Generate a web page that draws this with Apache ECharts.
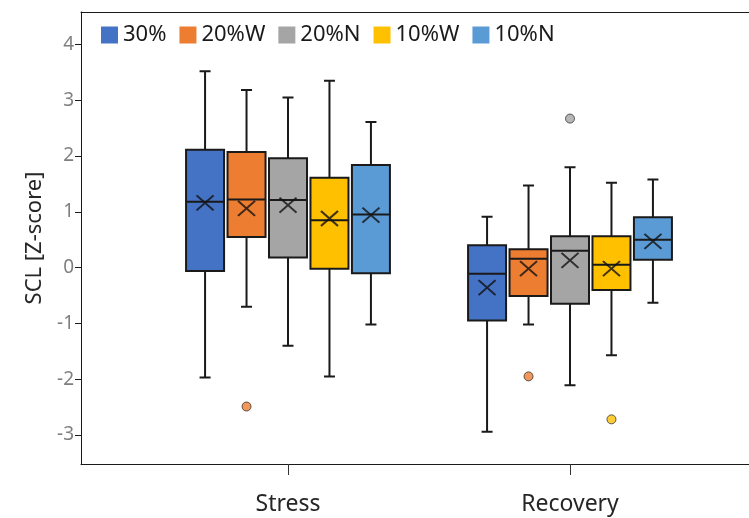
<!DOCTYPE html>
<html><head><meta charset="utf-8">
<script src="https://cdn.jsdelivr.net/npm/echarts@6/dist/echarts.min.js"></script>
<style>html,body{margin:0;padding:0;background:#fff}#c{width:749px;height:518px}</style>
</head><body><div id="c"></div>
<script>
const groups = ['Stress', 'Recovery'];
const seriesNames = ['30%', '20%W', '20%N', '10%W', '10%N'];
const colors = ['#4472C4', '#ED7D31', '#A5A5A5', '#FFC000', '#5B9BD5'];
const yTicks = [-3, -2, -1, 0, 1, 2, 3, 4];
// [min, Q1, median, Q3, max] per series
const stressBoxes = [
  [-1.97, -0.06, 1.18, 2.11, 3.52],
  [-0.70, 0.55, 1.22, 2.07, 3.18],
  [-1.40, 0.18, 1.21, 1.96, 3.05],
  [-1.95, -0.02, 0.85, 1.61, 3.35],
  [-1.02, -0.10, 0.95, 1.84, 2.61]
];
const recoveryBoxes = [
  [-2.94, -0.95, -0.11, 0.40, 0.91],
  [-1.02, -0.51, 0.16, 0.33, 1.47],
  [-2.11, -0.65, 0.30, 0.56, 1.80],
  [-1.57, -0.40, 0.05, 0.56, 1.52],
  [-0.63, 0.14, 0.50, 0.90, 1.58]
];
const stressMeans = [1.16, 1.06, 1.12, 0.88, 0.94];
const recoveryMeans = [-0.36, -0.02, 0.13, -0.02, 0.47];
const stressOutliers = [[], [-2.49], [], [], []];
const recoveryOutliers = [[], [-1.95], [2.67], [-2.72], []];

// layout
const Y_MIN = -3.52, Y_MAX = 4.58;
const TOP = 12, BOTTOM = 54;
const BAND = 247;
const centers = [288, 570];
const FONT = 'Noto Sans';
const LINE = '#1a1a1a';

const avail = BAND * 0.8 - 2;
const gap = avail / 5 * 0.3;
const bw = (avail - gap * 4) / 5;
const offsetOf = i => bw / 2 - avail / 2 + i * (gap + bw);

const perGroup = [
  { boxes: stressBoxes, means: stressMeans, outliers: stressOutliers },
  { boxes: recoveryBoxes, means: recoveryMeans, outliers: recoveryOutliers }
];
const axes = [{ box: 1, whisk: 2, y: 1 }, { box: 3, whisk: 4, y: 2 }];

const frameLine = { show: true, onZero: false, lineStyle: { color: LINE, width: 1 } };
const grid = [{ left: 81, right: 0, top: TOP, bottom: BOTTOM }];
const xAxis = [{
  gridIndex: 0, type: 'value', min: 0, max: 1, position: 'bottom',
  axisLine: frameLine, axisTick: { show: false }, axisLabel: { show: false }, splitLine: { show: false }
}];
const yAxis = [{
  gridIndex: 0, type: 'value', min: Y_MIN, max: Y_MAX, minInterval: 1, maxInterval: 1,
  axisLine: frameLine,
  axisTick: { show: true, length: 6, customValues: yTicks, lineStyle: { color: LINE } },
  axisLabel: { customValues: yTicks, fontSize: 19, color: '#7f7f7f', margin: 7, fontFamily: FONT,
    formatter: v => (Math.abs(v - Math.round(v)) < 1e-6 ? String(Math.round(v)) : '') },
  splitLine: { show: false },
  name: 'SCL [Z-score]', nameLocation: 'middle', nameGap: 35,
  nameTextStyle: { fontSize: 22, color: '#262626', fontFamily: FONT }
}];

groups.forEach((g, gi) => {
  grid.push({ left: centers[gi] - BAND / 2, width: BAND, top: TOP, bottom: BOTTOM });
  xAxis.push({
    gridIndex: gi + 1, type: 'category', data: [g], position: 'bottom',
    axisLine: { show: true, onZero: false, lineStyle: { color: LINE, width: 1 } },
    axisTick: { show: true, alignWithLabel: true, interval: 0, length: 11, lineStyle: { color: '#333' } },
    axisLabel: { margin: 29, fontSize: 23, color: '#262626', fontFamily: FONT },
    splitLine: { show: false }
  });
  xAxis.push({ gridIndex: gi + 1, type: 'category', data: [g], show: false });
  yAxis.push({ gridIndex: gi + 1, type: 'value', min: Y_MIN, max: Y_MAX, show: false });
});
// top frame line
xAxis.push({
  gridIndex: 0, type: 'value', min: 0, max: 1, position: 'top',
  axisLine: frameLine, axisTick: { show: false }, axisLabel: { show: false }, splitLine: { show: false }
});

const series = [];
perGroup.forEach((pg, gi) => {
  const ax = axes[gi];
  seriesNames.forEach((name, i) => {
    const b = pg.boxes[i];
    series.push({
      type: 'boxplot', name: name, xAxisIndex: ax.box, yAxisIndex: ax.y,
      boxWidth: [38, 38], z: 3, silent: true,
      itemStyle: { color: colors[i], borderColor: LINE, borderWidth: 2 },
      data: [[b[1], b[1], b[2], b[3], b[3]]]
    });
    series.push({
      type: 'boxplot', name: 'w-' + name, xAxisIndex: ax.whisk, yAxisIndex: ax.y,
      boxWidth: [11, 11], z: 2, silent: true,
      itemStyle: { color: '#fff', borderColor: LINE, borderWidth: 2 },
      data: [[b[0], b[2], b[2], b[2], b[4]]]
    });
    series.push({
      type: 'scatter', name: 'm-' + name, xAxisIndex: ax.box, yAxisIndex: ax.y, z: 6, silent: true,
      symbol: 'path://M0,0L10,10M10,0L0,10', symbolSize: [17, 15], symbolOffset: [offsetOf(i), 0],
      itemStyle: { color: 'rgba(0,0,0,0)', borderColor: '#111', borderWidth: 2 },
      data: [[groups[gi], pg.means[i]]]
    });
    if (pg.outliers[i].length) {
      series.push({
        type: 'scatter', name: 'o-' + name, xAxisIndex: ax.box, yAxisIndex: ax.y, z: 6, silent: true,
        symbol: 'circle', symbolSize: 9, symbolOffset: [offsetOf(i), 0],
        itemStyle: { color: colors[i], borderColor: '#333', borderWidth: 1 },
        data: pg.outliers[i].map(v => [groups[gi], v])
      });
    }
  });
});

const chart = echarts.init(document.getElementById('c'), null, { renderer: 'canvas' });
chart.setOption({
  animation: false,
  backgroundColor: '#fff',
  textStyle: { fontFamily: FONT },
  legend: {
    data: seriesNames.map((n, i) => ({ name: n, icon: 'rect', itemStyle: { color: colors[i], borderWidth: 0 } })),
    left: 96, top: 19, icon: 'rect', itemWidth: 17, itemHeight: 17, itemGap: 13,
    textStyle: { fontSize: 22, color: '#1a1a1a', fontFamily: FONT },
    itemStyle: { borderWidth: 0 }
  },
  grid: grid, xAxis: xAxis, yAxis: yAxis, series: series
});
</script></body></html>
